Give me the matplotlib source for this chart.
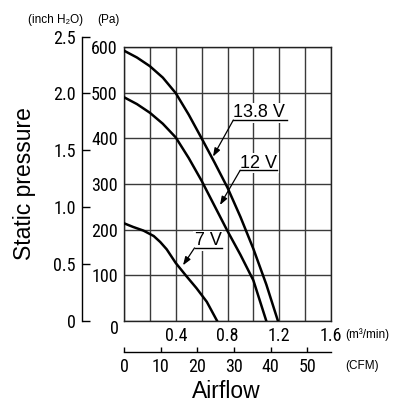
import matplotlib
matplotlib.use('Agg')
import matplotlib.pyplot as plt
from matplotlib import font_manager
import numpy as np

plt.rcParams['font.family'] = ['Liberation Sans', 'DejaVu Sans']

# pick a condensed face for the numbers if one is installed
installed = {f.name for f in font_manager.fontManager.ttflist}
narrow = None
for cand in ['Liberation Sans Narrow', 'Roboto Condensed', 'DejaVu Sans Condensed',
             'Open Sans Condensed', 'Noto Sans Condensed']:
    if cand in installed:
        narrow = cand
        break
if narrow:
    num_font, num_size = [narrow, 'DejaVu Sans'], 13
else:
    num_font, num_size = ['Liberation Sans', 'DejaVu Sans'], 10.5

# fan P-Q curves, airflow in m3/min, static pressure in Pa
flow_13v8 = [0, 0.1, 0.2, 0.3, 0.4, 0.5, 0.6, 0.7, 0.8, 0.9, 1.0, 1.1, 1.19]
pa_13v8 = [592, 577, 558, 533, 499, 452, 400, 347, 292, 228, 158, 80, 0]
flow_12v = [0, 0.1, 0.2, 0.3, 0.4, 0.5, 0.6, 0.7, 0.8, 0.9, 1.0, 1.1]
pa_12v = [490, 475, 456, 432, 402, 357, 307, 252, 197, 145, 89, 0]
flow_7v = [0, 0.07, 0.15, 0.23, 0.28, 0.33, 0.40, 0.48, 0.56, 0.64, 0.72]
pa_7v = [214, 206, 198, 186, 173, 157, 127, 99, 72, 42, 0]

# label text pos, underline end x, arrow tip
labels = [
    ('13.8 V', (0.845, 446), 1.26, (0.688, 360)),
    ('12 V', (0.898, 336), 1.18, (0.742, 254)),
    ('7 V', (0.545, 166), 0.757, (0.456, 122)),
]

x_ticks = np.arange(0, 1.61, 0.2)
x_labels = ['', '', '0.4', '', '0.8', '', '1.2', '', '1.6']
pa_ticks = np.arange(0, 601, 100)
pa_labels = ['', '100', '200', '300', '400', '500', '600']
inch_ticks = [0, 0.5, 1.0, 1.5, 2.0, 2.5]
inch_labels = ['0', '0.5', '1.0', '1.5', '2.0', '2.5']
cfm_ticks = [0, 10, 20, 30, 40, 50]

PA_PER_INCH = 249.09
CFM_PER_M3 = 35.3147

W, H = 413, 409
fig = plt.figure(figsize=(W / 100, H / 100), dpi=100)

ax = fig.add_axes([124 / W, 88 / H, 207 / W, 274 / H])
ax.set_xlim(0, 1.6)
ax.set_ylim(0, 600)
ax.set_xticks(x_ticks)
ax.set_xticklabels(x_labels, fontfamily=num_font, fontsize=num_size)
ax.set_yticks(pa_ticks)
ax.set_yticklabels(pa_labels, fontfamily=num_font, fontsize=num_size)
ax.tick_params(length=0, pad=4.5)
ax.grid(True, color='#3a3a3a', lw=1.0)
for s in ax.spines.values():
    s.set_color('#222222')
    s.set_linewidth(1.0)

for f, p in [(flow_13v8, pa_13v8), (flow_12v, pa_12v), (flow_7v, pa_7v)]:
    ax.plot(f, p, color='black', lw=1.8, zorder=3)

for txt, (tx, ty), ux, tip in labels:
    ax.text(tx, ty, txt, fontsize=13, ha='left', va='baseline', zorder=4,
            bbox=dict(fc='white', ec='none', pad=1.0))
    ax.plot([tx, ux], [ty - 6, ty - 6], color='black', lw=1.0, zorder=4)
    ax.annotate('', xy=tip, xytext=(tx, ty - 6), zorder=4,
                arrowprops=dict(arrowstyle='-|>,head_length=0.5,head_width=0.18',
                                color='black', lw=0.9, shrinkA=0, shrinkB=0))

# shared zero at the corner
ax.annotate('0', xy=(0, 0), xytext=(-7, -6), textcoords='offset points',
            ha='center', va='center', fontfamily=num_font, fontsize=num_size,
            annotation_clip=False)

# inch H2O scale on the far left
h_in = 274 / H * 2.5 * PA_PER_INCH / 600
ax_in = fig.add_axes([82 / W, 88 / H, 0.001, h_in])
ax_in.patch.set_visible(False)
for k in ['right', 'top', 'bottom']:
    ax_in.spines[k].set_visible(False)
ax_in.spines['left'].set_linewidth(1.0)
ax_in.set_ylim(0, 2.5)
ax_in.set_xticks([])
ax_in.set_yticks(inch_ticks)
ax_in.set_yticklabels(inch_labels, fontfamily=num_font, fontsize=num_size)
ax_in.tick_params(axis='y', direction='in', length=5.8, width=1.0, pad=4.5)

# CFM scale under the m3/min one
sec = ax.secondary_xaxis(-(352 - 321) / 274,
                         functions=(lambda m: m * CFM_PER_M3, lambda c: c / CFM_PER_M3))
sec.set_xticks(cfm_ticks)
sec.set_xticklabels([str(c) for c in cfm_ticks], fontfamily=num_font, fontsize=num_size)
sec.tick_params(direction='in', length=3.5, width=1.0, pad=4.5)
sec.spines['bottom'].set_linewidth(1.0)

fig.text(56 / W, 1 - 20 / H, '(inch H₂O)', fontsize=8.5, ha='center', va='center')
fig.text(108 / W, 1 - 20 / H, '(Pa)', fontsize=8.5, ha='center', va='center')
fig.text(345 / W, 1 - 335 / H, '(m³/min)', fontsize=8.5, ha='left', va='center')
fig.text(345 / W, 1 - 366 / H, '(CFM)', fontsize=8.5, ha='left', va='center')
fig.text(25 / W, 1 - 184 / H, 'Static pressure', fontsize=16.5, rotation=90,
         ha='center', va='center')
fig.text(226 / W, 1 - 392 / H, 'Airflow', fontsize=16.5, ha='center', va='center')

fig.savefig('out.png', dpi=100)
